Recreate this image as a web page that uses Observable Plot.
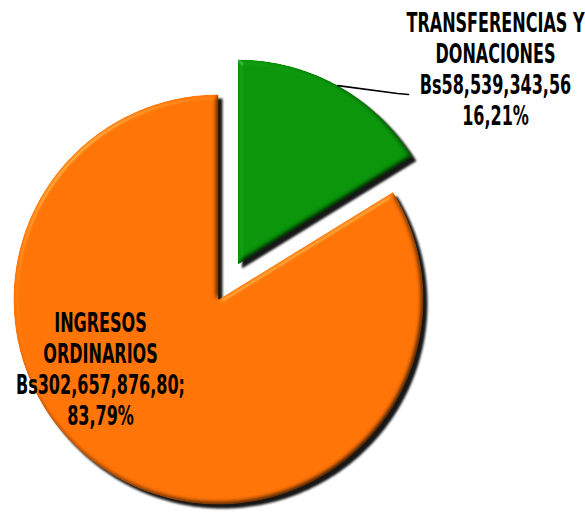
<!DOCTYPE html>
<html><head><meta charset="utf-8">
<script src="https://cdn.jsdelivr.net/npm/d3@7"></script>
<script src="https://cdn.jsdelivr.net/npm/@observablehq/plot@0.6"></script>
<style>html,body{margin:0;padding:0;background:#fff;} svg{display:block}</style>
</head><body><div id="chart"></div>
<script>
// ---- data ----
const categories = ["TRANSFERENCIAS Y DONACIONES", "INGRESOS ORDINARIOS"];
const values = [58539343.56, 302657876.80];
const labelLines = [["TRANSFERENCIAS Y", "DONACIONES"], ["INGRESOS", "ORDINARIOS"]];
const valueSeparators = ["", ";"];
const sliceColors = ["#099409", "#FF7306"];
const explodeOffsets = [0.195, 0];

// ---- layout (pixels) ----
const W = 585, H = 514, R = 205, CX = 218, CY = 299;
const labelAnchors = [[495, 68], [100, 368]];
const leaderEndPx = [408, 94], leaderElbowDx = 11;
const toUx = px => (px - CX) / R, toUy = py => (CY - py) / R;

const total = d3.sum(values);
const fmtMoney = v => "Bs" + d3.format(",.2f")(v).replace(/\.(\d+)$/, ",$1");
const fmtPct = v => d3.format(".2f")(v * 100).replace(".", ",") + "%";

let acc = 0;
const slices = values.map((v, i) => {
  const a0 = acc / total * 2 * Math.PI; acc += v;
  const a1 = acc / total * 2 * Math.PI;
  const m = (a0 + a1) / 2, e = explodeOffsets[i];
  return {i, name: categories[i], a0, a1, m, ox: e * Math.sin(m), oy: e * Math.cos(m)};
});
const slicePoints = slices.flatMap(s => {
  const n = Math.max(8, Math.ceil((s.a1 - s.a0) / (Math.PI / 360)));
  const pts = [{x: s.ox, y: s.oy}];
  for (let k = 0; k <= n; k++) {
    const t = s.a0 + (s.a1 - s.a0) * k / n;
    pts.push({x: s.ox + Math.sin(t), y: s.oy + Math.cos(t)});
  }
  pts.push({x: s.ox, y: s.oy});
  return pts.map(p => ({...p, name: s.name, color: sliceColors[s.i]}));
});

const labels = slices.map(s => ({
  x: toUx(labelAnchors[s.i][0]), y: toUy(labelAnchors[s.i][1]),
  text: [...labelLines[s.i], fmtMoney(values[s.i]) + valueSeparators[s.i], fmtPct(values[s.i] / total)].join("\n")
}));

const g = slices[0];
const leader = [
  {x: g.ox + Math.sin(g.m), y: g.oy + Math.cos(g.m)},
  {x: toUx(leaderEndPx[0] - leaderElbowDx), y: toUy(leaderEndPx[1] - 1)},
  {x: toUx(leaderEndPx[0]), y: toUy(leaderEndPx[1])}
];

const chart = Plot.plot({
  width: W, height: H, margin: 0,
  x: {domain: [toUx(0), toUx(W)], axis: null},
  y: {domain: [toUy(H), toUy(0)], axis: null},
  color: {type: "identity"},
  style: {background: "#fff"},
  marks: [
    Plot.line(slicePoints, {x: "x", y: "y", z: "name", fill: "color", stroke: "none", curve: "linear"}),
    Plot.line(leader, {x: "x", y: "y", stroke: "#000", strokeWidth: 1.6}),
    Plot.text(labels, {x: "x", y: "y", text: "text", fontSize: 27, lineHeight: 1.16, fontWeight: "bold",
      fontFamily: "'DejaVu Sans Condensed', 'DejaVu Sans', sans-serif", fill: "#000",
      textAnchor: "middle", lineAnchor: "middle"})
  ]
});
document.getElementById("chart").appendChild(chart);

// ---- bevel + shadow effect ----
const svg = d3.select(chart);
const defs = svg.insert("defs", ":first-child");
defs.html(`
<filter id="pieFx" x="-10%" y="-10%" width="125%" height="125%" color-interpolation-filters="sRGB">
  <feGaussianBlur in="SourceAlpha" stdDeviation="2.5" result="b"/>
  <feDiffuseLighting in="b" surfaceScale="3" diffuseConstant="1.155" lighting-color="#fff" result="diff">
    <feDistantLight azimuth="225" elevation="60"/>
  </feDiffuseLighting>
  <feComposite in="SourceGraphic" in2="diff" operator="arithmetic" k1="1" k2="0" k3="0" k4="0" result="shade"/>
  <feSpecularLighting in="b" surfaceScale="4" specularConstant="0.6" specularExponent="20" lighting-color="#fff" result="spec">
    <feDistantLight azimuth="225" elevation="25"/>
  </feSpecularLighting>
  <feComposite in="spec" in2="SourceAlpha" operator="in" result="specIn"/>
  <feComposite in="shade" in2="specIn" operator="arithmetic" k1="0" k2="1" k3="0.35" k4="0" result="lit0"/>
  <feComposite in="lit0" in2="SourceAlpha" operator="in" result="lit"/>
  <feOffset in="SourceAlpha" dx="4" dy="4" result="off"/>
  <feGaussianBlur in="off" stdDeviation="0.8" result="offb"/>
  <feFlood flood-color="#0a0a0a" flood-opacity="0.95"/>
  <feComposite in2="offb" operator="in" result="shadow"/>
  <feMerge><feMergeNode in="shadow"/><feMergeNode in="lit"/></feMerge>
</filter>`);
const lineGroups = svg.selectAll('g[aria-label="line"]').nodes();
if (lineGroups.length) d3.select(lineGroups[0]).selectAll("path").attr("filter", "url(#pieFx)");

// condense label glyphs horizontally (narrow display face)
const squeeze = 0.66;
svg.selectAll("text").each(function () {
  const el = this;
  const t = el.getAttribute("transform");
  if (t) el.setAttribute("transform", t + ` scale(${squeeze},1)`);
  else {
    const x = +el.getAttribute("x") || 0, y = +el.getAttribute("y") || 0;
    el.setAttribute("transform", `translate(${x},${y}) scale(${squeeze},1) translate(${-x},${-y})`);
  }
});
</script>
</body></html>
